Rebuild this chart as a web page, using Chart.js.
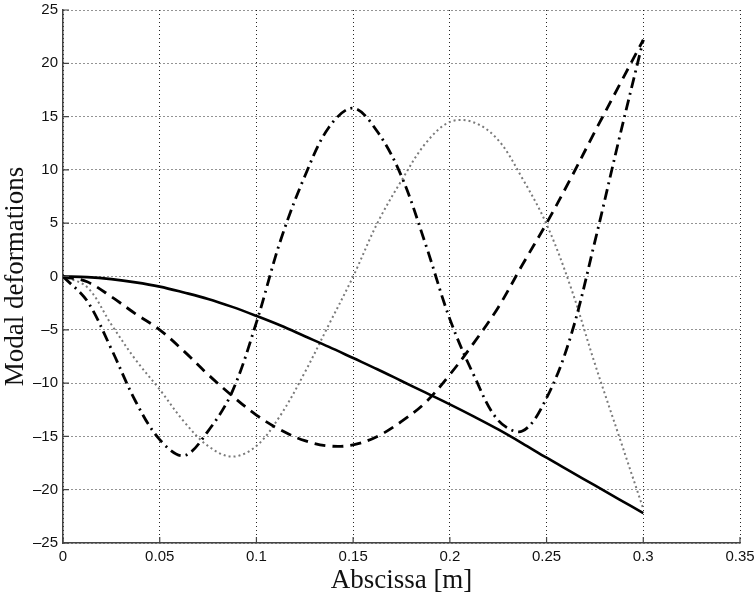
<!DOCTYPE html>
<html>
<head>
<meta charset="utf-8">
<script src="https://cdn.jsdelivr.net/npm/chart.js@4"></script>
<style>
  html, body { margin: 0; padding: 0; background: #fff; }
  #wrap { width: 755px; height: 598px; }
</style>
</head>
<body>
<div id="wrap"><canvas id="modeChart"></canvas></div>
<script>
// abscissa positions [m]
const abscissa = [0, 0.0125, 0.025, 0.0375, 0.05, 0.0625, 0.075, 0.0875, 0.1, 0.1125, 0.125, 0.1375,
    0.15, 0.1625, 0.175, 0.1875, 0.2, 0.2125, 0.225, 0.2375, 0.25, 0.2625, 0.275, 0.2875, 0.3];

// modal deformations
const mode1 = [0, -0.06, -0.25, -0.55, -0.95, -1.5, -2.1, -2.85, -3.7, -4.6, -5.6, -6.6,
    -7.65, -8.7, -9.8, -10.9, -12.0, -13.15, -14.35, -15.65, -17.0, -18.3, -19.6, -20.9, -22.2];
const mode2 = [0, -0.5, -1.9, -3.5, -5.0, -7.0, -9.2, -11.2, -13.0, -14.4, -15.4, -15.9,
    -15.8, -15.0, -13.6, -11.8, -9.2, -6.2, -2.9, 1.1, 5.0, 9.2, 13.6, 17.9, 22.2];
const mode3 = [0, -2.3, -6.8, -11.7, -15.3, -16.8, -14.5, -10.8, -4.3, 3.4, 9.4, 14.0,
    15.8, 13.6, 9.4, 3.0, -4.0, -9.3, -13.5, -14.5, -11.4, -5.6, 3.3, 12.9, 22.2];
const mode4 = [0, -1.0, -4.5, -7.8, -10.6, -13.6, -15.9, -16.9, -15.9, -13.0, -9.0, -4.5,
    0, 5.0, 9.0, 12.5, 14.5, 14.45, 12.8, 9.2, 4.9, -1.0, -8.2, -15.0, -21.8];

const xTicks = [0, 0.05, 0.1, 0.15, 0.2, 0.25, 0.3, 0.35];
const yTicks = [-25, -20, -15, -10, -5, 0, 5, 10, 15, 20, 25];

const toPoints = function (values) {
    return values.map((v, i) => ({ x: abscissa[i], y: v }));
};

const minusSign = function (v) {
    return String(v).replace('-', '\u2013');
};

// MATLAB style: short tick marks pointing into the plot
const innerTicks = {
    id: 'innerTicks',
    afterDraw(chart) {
        const ctx = chart.ctx;
        const area = chart.chartArea;
        const xs = chart.scales.x;
        const ys = chart.scales.y;
        ctx.save();
        ctx.strokeStyle = '#444';
        ctx.lineWidth = 1.2;
        ctx.beginPath();
        xTicks.forEach(t => {
            const px = xs.getPixelForValue(t);
            ctx.moveTo(px, area.bottom);
            ctx.lineTo(px, area.bottom - 6);
        });
        yTicks.forEach(t => {
            const py = ys.getPixelForValue(t);
            ctx.moveTo(area.left, py);
            ctx.lineTo(area.left + 6, py);
        });
        ctx.stroke();
        ctx.restore();
    }
};

const tickFont = { family: 'Liberation Sans', size: 15 };
const titleFont = { family: 'Liberation Serif', size: 27 };

new Chart(document.getElementById('modeChart'), {
    type: 'line',
    data: {
        datasets: [
            {
                label: 'Mode 1',
                data: toPoints(mode1),
                borderColor: '#000',
                borderWidth: 2.6,
            },
            {
                label: 'Mode 2',
                data: toPoints(mode2),
                borderColor: '#000',
                borderWidth: 2.8,
                borderDash: [11, 7],
            },
            {
                label: 'Mode 3',
                data: toPoints(mode3),
                borderColor: '#000',
                borderWidth: 2.8,
                borderDash: [11, 5, 2, 5],
            },
            {
                label: 'Mode 4',
                data: toPoints(mode4),
                borderColor: '#7a7a7a',
                borderWidth: 2,
                borderDash: [2, 3],
            },
        ],
    },
    options: {
        responsive: true,
        maintainAspectRatio: false,
        animation: false,
        elements: {
            point: { radius: 0 },
            line: { tension: 0.35, fill: false },
        },
        layout: {
            padding: { top: 10, right: 15, bottom: 0, left: 0 },
        },
        plugins: {
            legend: { display: false },
            title: { display: false },
            tooltip: { enabled: false },
        },
        scales: {
            x: {
                type: 'linear',
                min: 0,
                max: 0.35,
                afterBuildTicks: scale => { scale.ticks = xTicks.map(v => ({ value: v })); },
                afterFit: scale => {
                    scale.height = 55;
                    scale.paddingLeft = 0;
                    scale.paddingRight = 0;
                },
                grid: {
                    color: 'rgba(0,0,0,0.85)',
                    lineWidth: 1,
                    drawTicks: false,
                },
                border: { display: true, color: '#444', width: 1.5, dash: [1, 3] },
                ticks: {
                    color: '#111',
                    font: tickFont,
                    padding: 5,
                    maxRotation: 0,
                    callback: v => minusSign(v),
                },
                title: {
                    display: true,
                    text: 'Abscissa [m]',
                    color: '#111',
                    font: titleFont,
                    padding: { top: 0, bottom: 1 },
                },
            },
            y: {
                min: -25,
                max: 25,
                afterBuildTicks: scale => { scale.ticks = yTicks.map(v => ({ value: v })); },
                afterFit: scale => {
                    scale.width = 63;
                    scale.paddingTop = 0;
                    scale.paddingBottom = 0;
                },
                grid: {
                    color: 'rgba(0,0,0,0.85)',
                    lineWidth: 1,
                    drawTicks: false,
                },
                border: { display: true, color: '#444', width: 1.5, dash: [1, 3] },
                ticks: {
                    color: '#111',
                    font: tickFont,
                    padding: 5,
                    callback: v => minusSign(v),
                },
                title: {
                    display: true,
                    text: 'Modal deformations',
                    color: '#111',
                    font: titleFont,
                    padding: { top: 0, bottom: 0 },
                },
            },
        },
    },
    plugins: [innerTicks],
});
</script>
</body>
</html>
